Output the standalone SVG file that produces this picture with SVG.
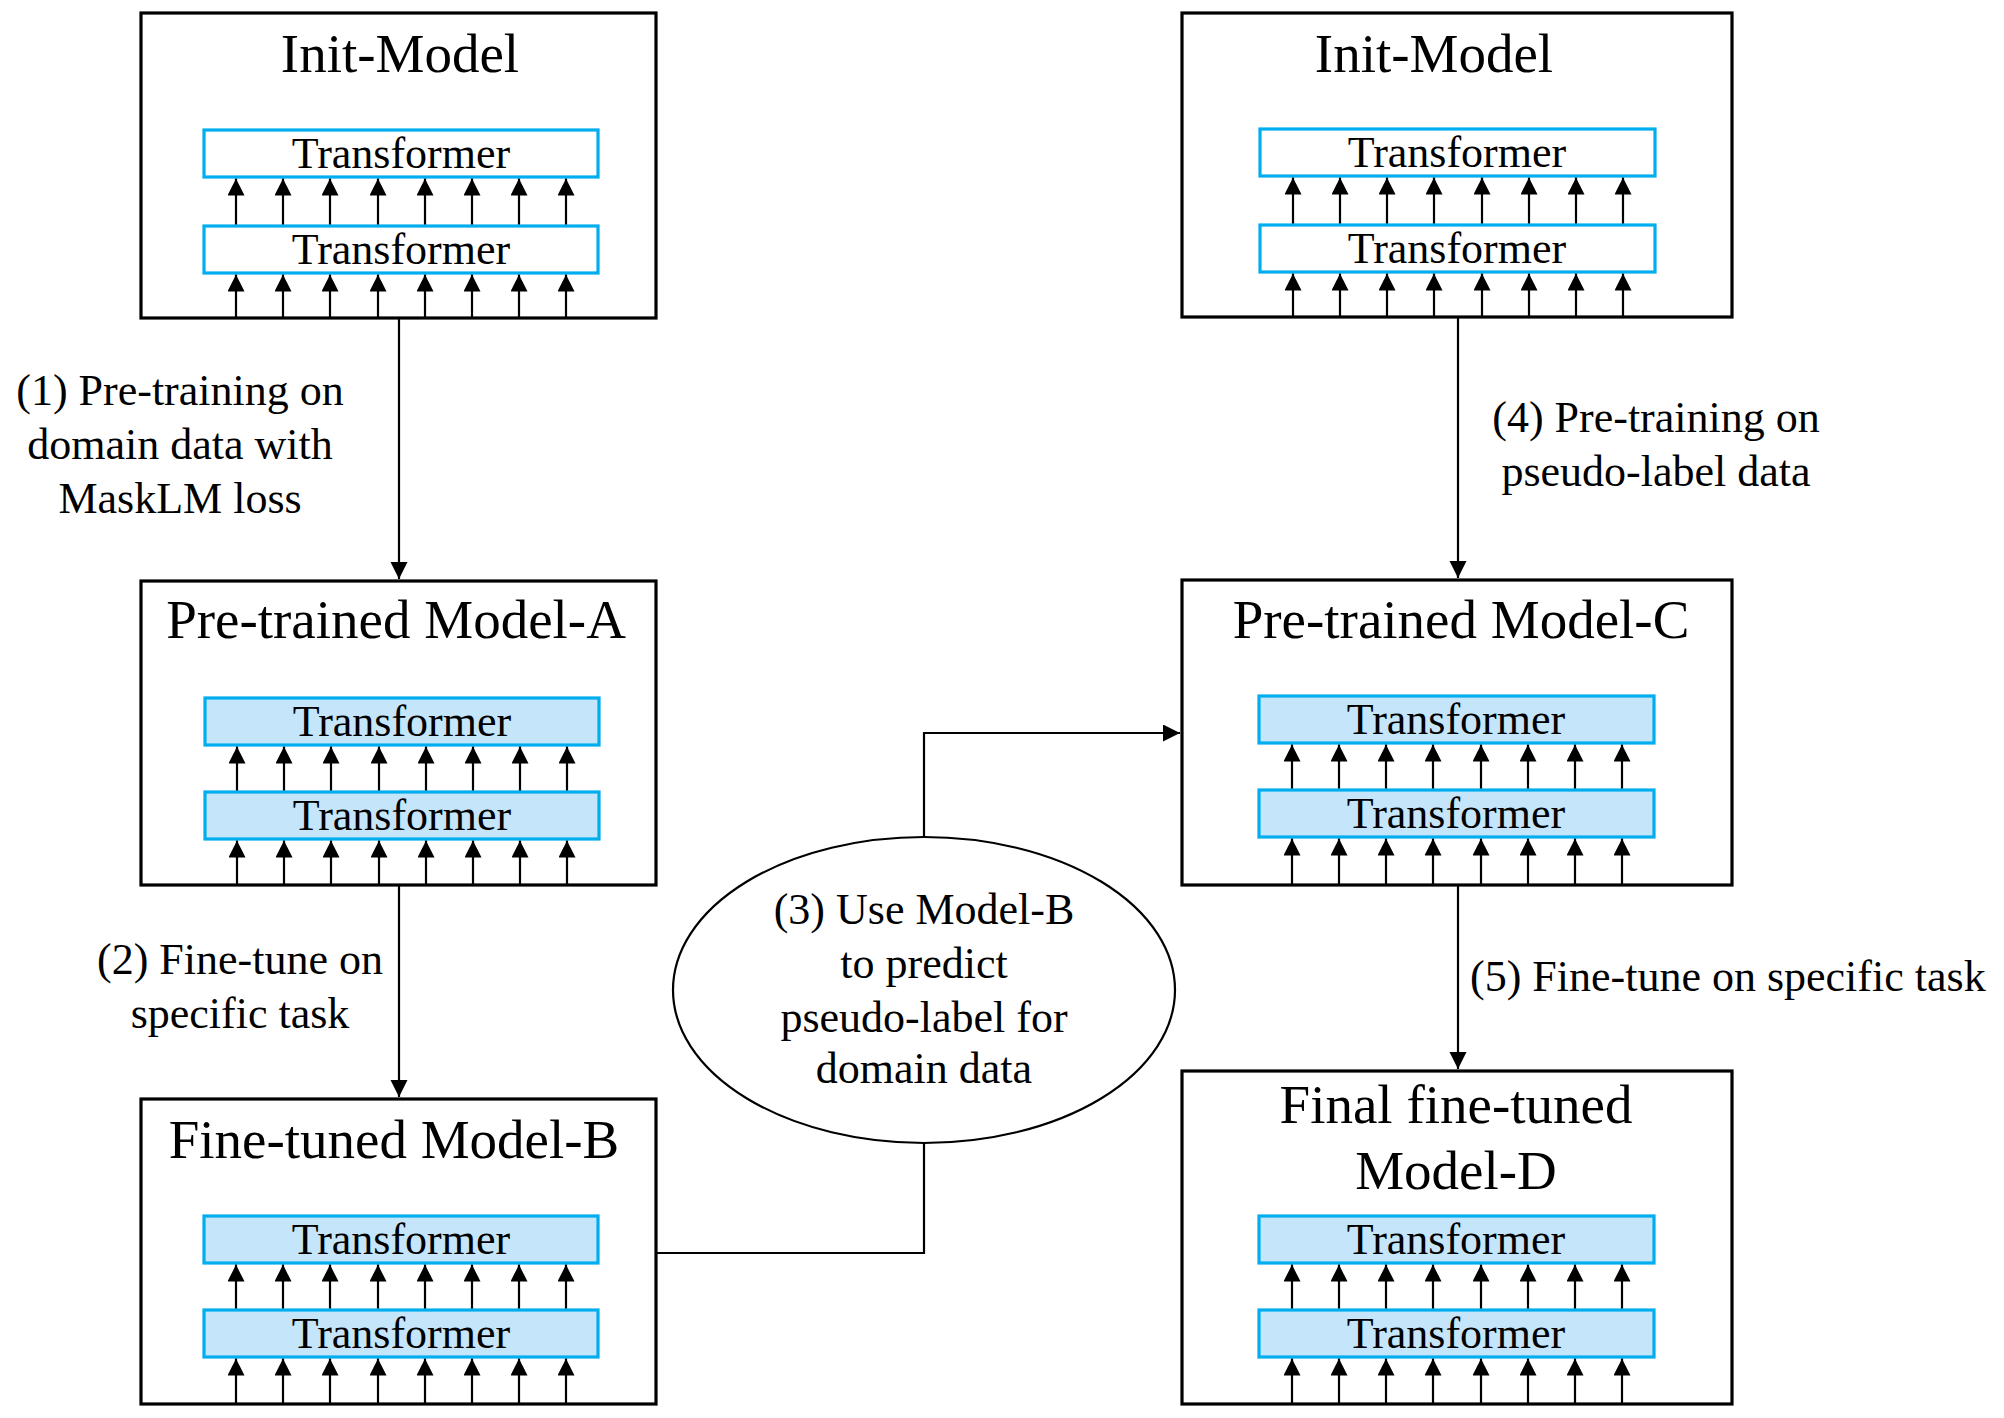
<svg xmlns="http://www.w3.org/2000/svg" width="2004" height="1418" viewBox="0 0 2004 1418">
<style>
  text { font-family: "Liberation Serif", "Times New Roman", serif; fill: #000; }
  .box { fill: #fff; stroke: #000; stroke-width: 3.2; }
  .title { font-size: 55px; text-anchor: middle; }
  .tf { stroke: #00AEEF; stroke-width: 3.2; }
  .tf-empty { fill: #fff; }
  .tf-filled { fill: #C5E5FB; }
  .tft { font-size: 44px; text-anchor: middle; }
  .up line { stroke: #000; stroke-width: 2.2; marker-end: url(#ah); }
  .conn { stroke: #000; stroke-width: 2.2; fill: none; }
  .label { font-size: 44px; }
  .mid { text-anchor: middle; }
</style>
<defs>
  <marker id="ah" markerUnits="userSpaceOnUse" markerWidth="17" markerHeight="18" refX="17" refY="8.5" orient="auto">
    <path d="M0,0 L17,8.5 L0,17 z" fill="#000"/>
  </marker>
</defs>
<rect x="0" y="0" width="2004" height="1418" fill="#fff"/>

<g id="connectors">
  <path class="conn" d="M399,318 V579" marker-end="url(#ah)"/>
  <path class="conn" d="M399,885 V1097" marker-end="url(#ah)"/>
  <path class="conn" d="M656,1253 H924 V1143"/>
  <path class="conn" d="M924,837 V733 H1180" marker-end="url(#ah)"/>
  <path class="conn" d="M1458,317 V578" marker-end="url(#ah)"/>
  <path class="conn" d="M1458,885 V1069" marker-end="url(#ah)"/>
  <g id="label-1" class="label">
    <text class="mid" x="180" y="405">(1) Pre-training on</text>
    <text class="mid" x="180" y="459">domain data with</text>
    <text class="mid" x="180" y="513">MaskLM loss</text>
  </g>
  <g id="label-2" class="label">
    <text class="mid" x="240" y="974">(2) Fine-tune on</text>
    <text class="mid" x="240" y="1028">specific task</text>
  </g>
  <g id="label-4" class="label">
    <text class="mid" x="1656" y="432">(4) Pre-training on</text>
    <text class="mid" x="1656" y="486">pseudo-label data</text>
  </g>
  <g id="label-5" class="label">
    <text x="1470" y="991">(5) Fine-tune on specific task</text>
  </g>
</g>

<g id="init-model-left">
  <rect class="box" x="141" y="13" width="515" height="305"/>
  <text class="title" x="400" y="72">Init-Model</text>
  <rect class="tf tf-empty" x="204" y="130" width="394" height="47"/>
  <text class="tft" x="401" y="168">Transformer</text>
  <rect class="tf tf-empty" x="204" y="226" width="394" height="47"/>
  <text class="tft" x="401" y="264">Transformer</text>
  <g class="up">
    <line x1="236" y1="224.5" x2="236" y2="178.6"/><line x1="283" y1="224.5" x2="283" y2="178.6"/>
    <line x1="330" y1="224.5" x2="330" y2="178.6"/><line x1="378" y1="224.5" x2="378" y2="178.6"/>
    <line x1="425" y1="224.5" x2="425" y2="178.6"/><line x1="472" y1="224.5" x2="472" y2="178.6"/>
    <line x1="519" y1="224.5" x2="519" y2="178.6"/><line x1="566" y1="224.5" x2="566" y2="178.6"/>
    <line x1="236" y1="317" x2="236" y2="274.6"/><line x1="283" y1="317" x2="283" y2="274.6"/>
    <line x1="330" y1="317" x2="330" y2="274.6"/><line x1="378" y1="317" x2="378" y2="274.6"/>
    <line x1="425" y1="317" x2="425" y2="274.6"/><line x1="472" y1="317" x2="472" y2="274.6"/>
    <line x1="519" y1="317" x2="519" y2="274.6"/><line x1="566" y1="317" x2="566" y2="274.6"/>
  </g>
</g>

<g id="init-model-right">
  <rect class="box" x="1182" y="13" width="550" height="304"/>
  <text class="title" x="1434" y="72">Init-Model</text>
  <rect class="tf tf-empty" x="1260" y="129" width="395" height="47"/>
  <text class="tft" x="1457" y="167">Transformer</text>
  <rect class="tf tf-empty" x="1260" y="225" width="395" height="47"/>
  <text class="tft" x="1457" y="263">Transformer</text>
  <g class="up">
    <line x1="1293" y1="223.5" x2="1293" y2="177.6"/><line x1="1340" y1="223.5" x2="1340" y2="177.6"/>
    <line x1="1387" y1="223.5" x2="1387" y2="177.6"/><line x1="1434" y1="223.5" x2="1434" y2="177.6"/>
    <line x1="1482" y1="223.5" x2="1482" y2="177.6"/><line x1="1529" y1="223.5" x2="1529" y2="177.6"/>
    <line x1="1576" y1="223.5" x2="1576" y2="177.6"/><line x1="1623" y1="223.5" x2="1623" y2="177.6"/>
    <line x1="1293" y1="316" x2="1293" y2="273.6"/><line x1="1340" y1="316" x2="1340" y2="273.6"/>
    <line x1="1387" y1="316" x2="1387" y2="273.6"/><line x1="1434" y1="316" x2="1434" y2="273.6"/>
    <line x1="1482" y1="316" x2="1482" y2="273.6"/><line x1="1529" y1="316" x2="1529" y2="273.6"/>
    <line x1="1576" y1="316" x2="1576" y2="273.6"/><line x1="1623" y1="316" x2="1623" y2="273.6"/>
  </g>
</g>

<g id="pretrained-model-a">
  <rect class="box" x="141" y="581" width="515" height="304"/>
  <text class="title" x="396" y="638">Pre-trained Model-A</text>
  <rect class="tf tf-filled" x="205" y="698" width="394" height="47"/>
  <text class="tft" x="402" y="736">Transformer</text>
  <rect class="tf tf-filled" x="205" y="792" width="394" height="47"/>
  <text class="tft" x="402" y="830">Transformer</text>
  <g class="up">
    <line x1="237" y1="790.5" x2="237" y2="746.6"/><line x1="284" y1="790.5" x2="284" y2="746.6"/>
    <line x1="331" y1="790.5" x2="331" y2="746.6"/><line x1="379" y1="790.5" x2="379" y2="746.6"/>
    <line x1="426" y1="790.5" x2="426" y2="746.6"/><line x1="473" y1="790.5" x2="473" y2="746.6"/>
    <line x1="520" y1="790.5" x2="520" y2="746.6"/><line x1="567" y1="790.5" x2="567" y2="746.6"/>
    <line x1="237" y1="884" x2="237" y2="840.6"/><line x1="284" y1="884" x2="284" y2="840.6"/>
    <line x1="331" y1="884" x2="331" y2="840.6"/><line x1="379" y1="884" x2="379" y2="840.6"/>
    <line x1="426" y1="884" x2="426" y2="840.6"/><line x1="473" y1="884" x2="473" y2="840.6"/>
    <line x1="520" y1="884" x2="520" y2="840.6"/><line x1="567" y1="884" x2="567" y2="840.6"/>
  </g>
</g>

<g id="pretrained-model-c">
  <rect class="box" x="1182" y="580" width="550" height="305"/>
  <text class="title" x="1461" y="638">Pre-trained Model-C</text>
  <rect class="tf tf-filled" x="1259" y="696" width="395" height="47"/>
  <text class="tft" x="1456" y="734">Transformer</text>
  <rect class="tf tf-filled" x="1259" y="790" width="395" height="47"/>
  <text class="tft" x="1456" y="828">Transformer</text>
  <g class="up">
    <line x1="1292" y1="788.5" x2="1292" y2="744.6"/><line x1="1339" y1="788.5" x2="1339" y2="744.6"/>
    <line x1="1386" y1="788.5" x2="1386" y2="744.6"/><line x1="1433" y1="788.5" x2="1433" y2="744.6"/>
    <line x1="1481" y1="788.5" x2="1481" y2="744.6"/><line x1="1528" y1="788.5" x2="1528" y2="744.6"/>
    <line x1="1575" y1="788.5" x2="1575" y2="744.6"/><line x1="1622" y1="788.5" x2="1622" y2="744.6"/>
    <line x1="1292" y1="884" x2="1292" y2="838.6"/><line x1="1339" y1="884" x2="1339" y2="838.6"/>
    <line x1="1386" y1="884" x2="1386" y2="838.6"/><line x1="1433" y1="884" x2="1433" y2="838.6"/>
    <line x1="1481" y1="884" x2="1481" y2="838.6"/><line x1="1528" y1="884" x2="1528" y2="838.6"/>
    <line x1="1575" y1="884" x2="1575" y2="838.6"/><line x1="1622" y1="884" x2="1622" y2="838.6"/>
  </g>
</g>

<g id="finetuned-model-b">
  <rect class="box" x="141" y="1099" width="515" height="305"/>
  <text class="title" x="394" y="1158">Fine-tuned Model-B</text>
  <rect class="tf tf-filled" x="204" y="1216" width="394" height="47"/>
  <text class="tft" x="401" y="1254">Transformer</text>
  <rect class="tf tf-filled" x="204" y="1310" width="394" height="47"/>
  <text class="tft" x="401" y="1348">Transformer</text>
  <g class="up">
    <line x1="236" y1="1308.5" x2="236" y2="1264.6"/><line x1="283" y1="1308.5" x2="283" y2="1264.6"/>
    <line x1="330" y1="1308.5" x2="330" y2="1264.6"/><line x1="378" y1="1308.5" x2="378" y2="1264.6"/>
    <line x1="425" y1="1308.5" x2="425" y2="1264.6"/><line x1="472" y1="1308.5" x2="472" y2="1264.6"/>
    <line x1="519" y1="1308.5" x2="519" y2="1264.6"/><line x1="566" y1="1308.5" x2="566" y2="1264.6"/>
    <line x1="236" y1="1403" x2="236" y2="1358.6"/><line x1="283" y1="1403" x2="283" y2="1358.6"/>
    <line x1="330" y1="1403" x2="330" y2="1358.6"/><line x1="378" y1="1403" x2="378" y2="1358.6"/>
    <line x1="425" y1="1403" x2="425" y2="1358.6"/><line x1="472" y1="1403" x2="472" y2="1358.6"/>
    <line x1="519" y1="1403" x2="519" y2="1358.6"/><line x1="566" y1="1403" x2="566" y2="1358.6"/>
  </g>
</g>

<g id="final-model-d">
  <rect class="box" x="1182" y="1071" width="550" height="333"/>
  <text class="title" x="1456" y="1123">Final fine-tuned</text>
  <text class="title" x="1456" y="1189">Model-D</text>
  <rect class="tf tf-filled" x="1259" y="1216" width="395" height="47"/>
  <text class="tft" x="1456" y="1254">Transformer</text>
  <rect class="tf tf-filled" x="1259" y="1310" width="395" height="47"/>
  <text class="tft" x="1456" y="1348">Transformer</text>
  <g class="up">
    <line x1="1292" y1="1308.5" x2="1292" y2="1264.6"/><line x1="1339" y1="1308.5" x2="1339" y2="1264.6"/>
    <line x1="1386" y1="1308.5" x2="1386" y2="1264.6"/><line x1="1433" y1="1308.5" x2="1433" y2="1264.6"/>
    <line x1="1481" y1="1308.5" x2="1481" y2="1264.6"/><line x1="1528" y1="1308.5" x2="1528" y2="1264.6"/>
    <line x1="1575" y1="1308.5" x2="1575" y2="1264.6"/><line x1="1622" y1="1308.5" x2="1622" y2="1264.6"/>
    <line x1="1292" y1="1403" x2="1292" y2="1358.6"/><line x1="1339" y1="1403" x2="1339" y2="1358.6"/>
    <line x1="1386" y1="1403" x2="1386" y2="1358.6"/><line x1="1433" y1="1403" x2="1433" y2="1358.6"/>
    <line x1="1481" y1="1403" x2="1481" y2="1358.6"/><line x1="1528" y1="1403" x2="1528" y2="1358.6"/>
    <line x1="1575" y1="1403" x2="1575" y2="1358.6"/><line x1="1622" y1="1403" x2="1622" y2="1358.6"/>
  </g>
</g>

<g id="predict-step-3">
  <ellipse cx="924" cy="990" rx="251" ry="153" fill="#fff" stroke="#000" stroke-width="2.2"/>
  <text class="label mid" x="924" y="924">(3) Use Model-B</text>
  <text class="label mid" x="924" y="978">to predict</text>
  <text class="label mid" x="924" y="1032">pseudo-label for</text>
  <text class="label mid" x="924" y="1083">domain data</text>
</g>
</svg>
